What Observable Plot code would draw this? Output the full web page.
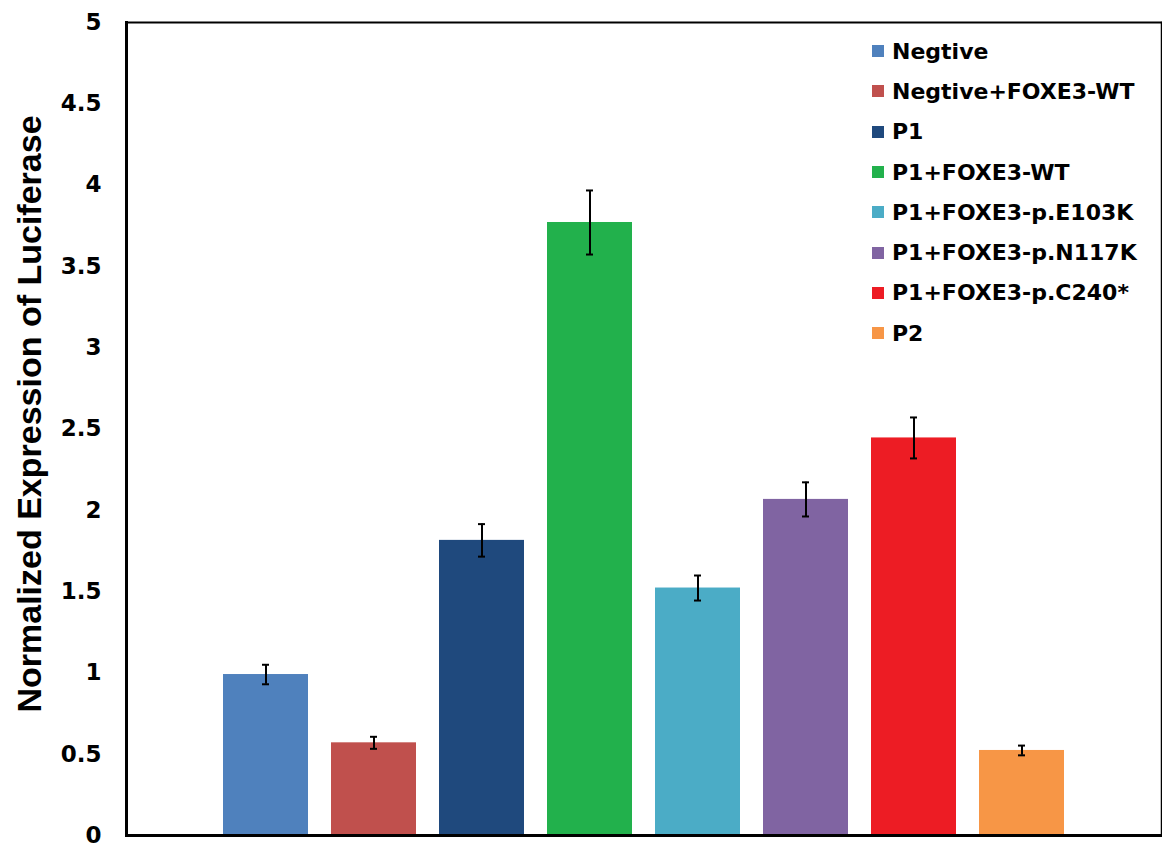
<!DOCTYPE html>
<html>
<head>
<meta charset="utf-8">
<script src="https://cdn.jsdelivr.net/npm/d3@7"></script>
<script src="https://cdn.jsdelivr.net/npm/@observablehq/plot@0.6"></script>
<style>
  html, body { margin: 0; padding: 0; background: #fff; }
  #wrap { position: relative; width: 1162px; height: 846px; }
  #legend { position: absolute; left: 872px; top: 31px; font-family: "DejaVu Sans", sans-serif; font-weight: bold; font-size: 22px; color: #000; }
  #legend .row { display: flex; align-items: center; height: 40.3px; white-space: nowrap; }
  #legend .sw { width: 12px; height: 12px; margin-right: 8px; flex: none; }
</style>
</head>
<body>
<div id="wrap"><div id="legend"></div></div>
<script>
const categories = ["Negtive", "Negtive+FOXE3-WT", "P1", "P1+FOXE3-WT", "P1+FOXE3-p.E103K", "P1+FOXE3-p.N117K", "P1+FOXE3-p.C240*", "P2"];
const values = [0.99, 0.57, 1.815, 3.77, 1.522, 2.067, 2.445, 0.523];
const errors = [0.06, 0.037, 0.10, 0.197, 0.077, 0.105, 0.126, 0.03];
const colors = ["#4F81BD", "#C0504D", "#1F497D", "#22B14C", "#4BACC6", "#8064A2", "#ED1C24", "#F79646"];
const yTicks = [0, 0.5, 1, 1.5, 2, 2.5, 3, 3.5, 4, 4.5, 5];
const yTitle = "Normalized Expression of Luciferase";

const data = categories.map((c, i) => ({cat: c, value: values[i], err: errors[i], lo: values[i] - errors[i], hi: values[i] + errors[i]}));

const chart = Plot.plot({
  width: 1162,
  height: 846,
  marginLeft: 126,
  marginRight: 1,
  marginTop: 22,
  marginBottom: 11,
  style: {fontFamily: "DejaVu Sans, sans-serif", fontWeight: "bold", color: "#000", background: "#fff", overflow: "visible"},
  x: {domain: categories, paddingInner: 0.21, paddingOuter: 0.87, axis: null},
  y: {domain: [0, 5], axis: null},
  color: {domain: categories, range: colors},
  marks: [
    Plot.barY(data, {x: "cat", y: "value", fill: "cat"}),
    Plot.ruleX(data, {x: "cat", y1: "lo", y2: "hi", stroke: "#000", strokeWidth: 2}),
    Plot.tickY(data, {x: "cat", y: "lo", stroke: "#000", strokeWidth: 2, insetLeft: 39, insetRight: 39}),
    Plot.tickY(data, {x: "cat", y: "hi", stroke: "#000", strokeWidth: 2, insetLeft: 39, insetRight: 39}),
    Plot.axisY({ticks: yTicks, tickSize: 0, tickPadding: 25, tickFormat: d => String(d), fontSize: 23, fontWeight: "bold", label: null}),
    Plot.text([yTitle], {frameAnchor: "left", rotate: -90, textAnchor: "middle", dx: -96, dy: -15, fontSize: 34, fontWeight: "bold", fontFamily: "Liberation Sans, Arial, sans-serif", fill: "#000"}),
    Plot.frame({anchor: "top", stroke: "#000", strokeWidth: 2}),
    Plot.frame({anchor: "right", stroke: "#000", strokeWidth: 1.5}),
    Plot.frame({anchor: "left", stroke: "#000", strokeWidth: 3}),
    Plot.frame({anchor: "bottom", stroke: "#000", strokeWidth: 3})
  ]
});
document.getElementById("wrap").prepend(chart);

const legend = document.getElementById("legend");
categories.forEach((c, i) => {
  const row = document.createElement("div");
  row.className = "row";
  const sw = document.createElement("span");
  sw.className = "sw";
  sw.style.background = colors[i];
  const t = document.createElement("span");
  t.textContent = c;
  row.append(sw, t);
  legend.append(row);
});
</script>
</body>
</html>
